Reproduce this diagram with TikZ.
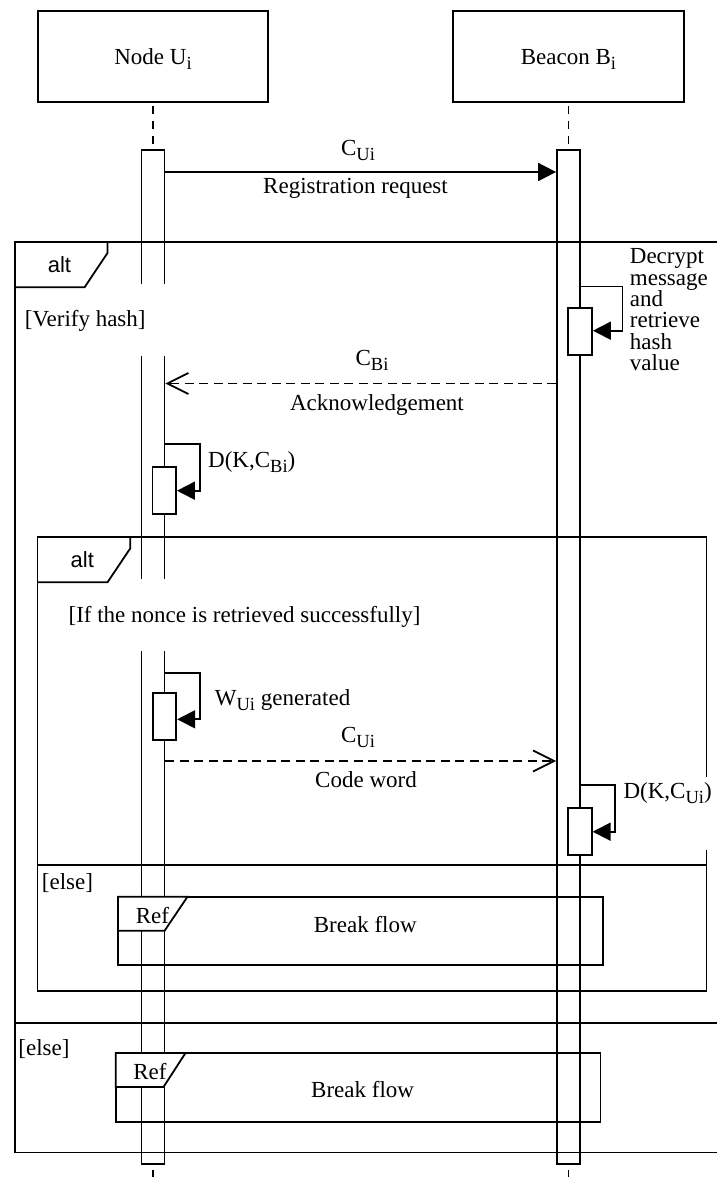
\documentclass[tikz,border=0pt]{standalone}
\usepackage{fontspec}
\setmainfont{Liberation Serif}
\newfontfamily\altsans{Liberation Sans}
\usetikzlibrary{arrows.meta}
\newcommand\sbx[1]{\raisebox{-5.5pt}{\fontsize{18.5}{18.5}\selectfont #1}}
\begin{document}
\begin{tikzpicture}[x=1pt,y=-1pt,line width=1.8pt,
 txt/.style={inner sep=0pt, font=\fontsize{23}{23}\selectfont},
 head/.style={draw, minimum height=91pt, inner sep=0pt},
 lbar/.style={draw, minimum width=23pt, inner sep=0pt},
 actbox/.style={draw, fill=white, minimum width=23.5pt, minimum height=46.7pt, inner sep=0pt},
 lifedash/.style={dash pattern=on 8pt off 7pt},
 msgdash/.style={dash pattern=on 9pt off 5.5pt},
 synctip/.style={-{Triangle[length=18pt,width=18pt]}},
 opentip/.style={-{Straight Barb[length=21pt,width=21pt]}},
 alttxt/.style={inner sep=0pt, font=\altsans\fontsize{22}{22}\selectfont},
 reftab/.style={draw, fill=white},
]
\useasboundingbox (0,0) rectangle (717,1183);
\clip (0,0) rectangle (717,1183);
\fill[white] (0,0) rectangle (717,1183);

% heads
\node[head, minimum width=230pt] (nu) at (153,56.5) {};
\node[head, minimum width=231pt] (nb) at (568.5,56.5) {};
\node[txt, anchor=base] (nut) at (nu.center |- 0,64) {Node U\sbx{i}};
\node[txt, anchor=base] (nbt) at (nb.center |- 0,64) {Beacon B\sbx{i}};

% frames
\draw (15,241.7) rectangle (730,1152.5);
\draw (107.5,241.7) -- (107.5,253) -- (84.6,287.3) -- (15,287.3);
\draw (15,1023.3) -- (730,1023.3);
\draw (37.5,536.7) rectangle (706.5,990.7);
\draw (130.3,536.7) -- (130.3,548.3) -- (107.5,582.3) -- (37.5,582.3);
\draw (37.5,865) -- (706.5,865);

% activation bars
\node[lbar, minimum height=1014pt] (ub) at (153,657) {};
\node[lbar, minimum height=1014pt] (bb) at (568.5,657) {};
\coordinate (ue) at (153,1183);
\coordinate (be) at (568.5,1183);
\draw[lifedash, dash phase=12pt] (nu.south) -- (ub.north);
\draw[lifedash, dash phase=12pt] (nb.south) -- (bb.north);
\draw[dash pattern=on 7pt off 6pt, dash phase=8pt] (ub.south) -- (ue);
\draw[dash pattern=on 7pt off 6pt, dash phase=8pt] (bb.south) -- (be);

% ref boxes
\draw (118,896.7) rectangle (602.6,965);
\draw[reftab] (118,896.7) -- (187.5,896.7) -- (164.6,930.7) -- (118,930.7) -- cycle;
\node[txt] (ref1) at (152.5,916) {Ref};
\node[txt] (brk1) at (365.3,925) {Break flow};
\draw (115.7,1053) rectangle (600.4,1122.3);
\draw[reftab] (115.7,1053) -- (185.5,1053) -- (163.5,1087) -- (115.7,1087) -- cycle;
\node[txt] (ref2) at (150,1072) {Ref};
\node[txt] (brk2) at (362.6,1090) {Break flow};

% bar gaps under guard labels
\fill[white] (136,284) rectangle (171,356);
\fill[white] (136,579) rectangle (171,651);

% frame labels
\node[alttxt] (alt1) at (59.4,265) {alt};
\node[alttxt] (alt2) at (82.3,560) {alt};
\node[txt, anchor=west] (g1) at (24,321) {[Verify hash]};
\node[txt, anchor=west] (g2) at (67.7,616.7) {[If the nonce is retrieved successfully]};
\node[txt, anchor=west] (g3) at (41,883) {[else]};
\node[txt, anchor=west] (g4) at (17.5,1049.3) {[else]};

% message y levels
\coordinate (m1) at (0,172);
\coordinate (m2) at (0,383.5);
\coordinate (m3) at (0,761);
\coordinate (s1a) at (622.5,286.5);
\coordinate (s1b) at (622.5,330.7);
\coordinate (s2a) at (200,444);
\coordinate (s2b) at (200,490.7);
\coordinate (s3a) at (200,672.7);
\coordinate (s3b) at (200,719.3);
\coordinate (s4a) at (615,785);
\coordinate (s4b) at (615,831.7);

% registration request
\draw[synctip] (ub.east |- m1) -- (bb.west |- m1);
\node[txt, anchor=base] (l1a) at (358,155) {C\sbx{Ui}};
\node[txt, anchor=base] (l1b) at (355.5,193) {Registration request};

% decrypt self message
\node[actbox, minimum width=24pt] (bd) at (580,331.7) {};
\draw[synctip] (bb.east |- s1a) -- (s1a) -- (s1b) -- (bd.east |- s1b);
\node[txt, align=left, anchor=north west, font=\fontsize{23}{21.3}\selectfont] (dec) at (629,248) {Decrypt\\message\\and\\retrieve\\hash\\value};

% acknowledgement
\draw[msgdash, opentip] (bb.west |- m2) -- (ub.east |- m2);
\node[txt, anchor=base] (l2a) at (372,365) {C\sbx{Bi}};
\node[txt, anchor=base] (l2b) at (377,410) {Acknowledgement};

% D(K,C_Bi)
\node[actbox] (ud) at (164.3,490.5) {};
\draw[synctip] (ub.east |- s2a) -- (s2a) -- (s2b) -- (ud.east |- s2b);
\node[txt, anchor=base west] (l3) at (207.3,467) {D(K,C\sbx{Bi})};

% W_Ui generated
\node[actbox] (uw) at (164.5,716.7) {};
\draw[synctip] (ub.east |- s3a) -- (s3a) -- (s3b) -- (uw.east |- s3b);
\node[txt, anchor=base west] (l4) at (214,705) {W\sbx{Ui} generated};

% code word
\draw[msgdash, opentip] (ub.east |- m3) -- (bb.west |- m3);
\node[txt, anchor=base] (l5a) at (358,742) {C\sbx{Ui}};
\node[txt, anchor=base] (l5b) at (366,787) {Code word};

% D(K,C_Ui)
\fill[white] (618,777) rectangle (712,850);
\node[actbox, minimum width=24pt] (bu) at (579.7,831.7) {};
\draw[synctip] (bb.east |- s4a) -- (s4a) -- (s4b) -- (bu.east |- s4b);
\node[txt, anchor=base west] (l6) at (622.7,798) {D(K,C\sbx{Ui})};
\end{tikzpicture}
\end{document}
